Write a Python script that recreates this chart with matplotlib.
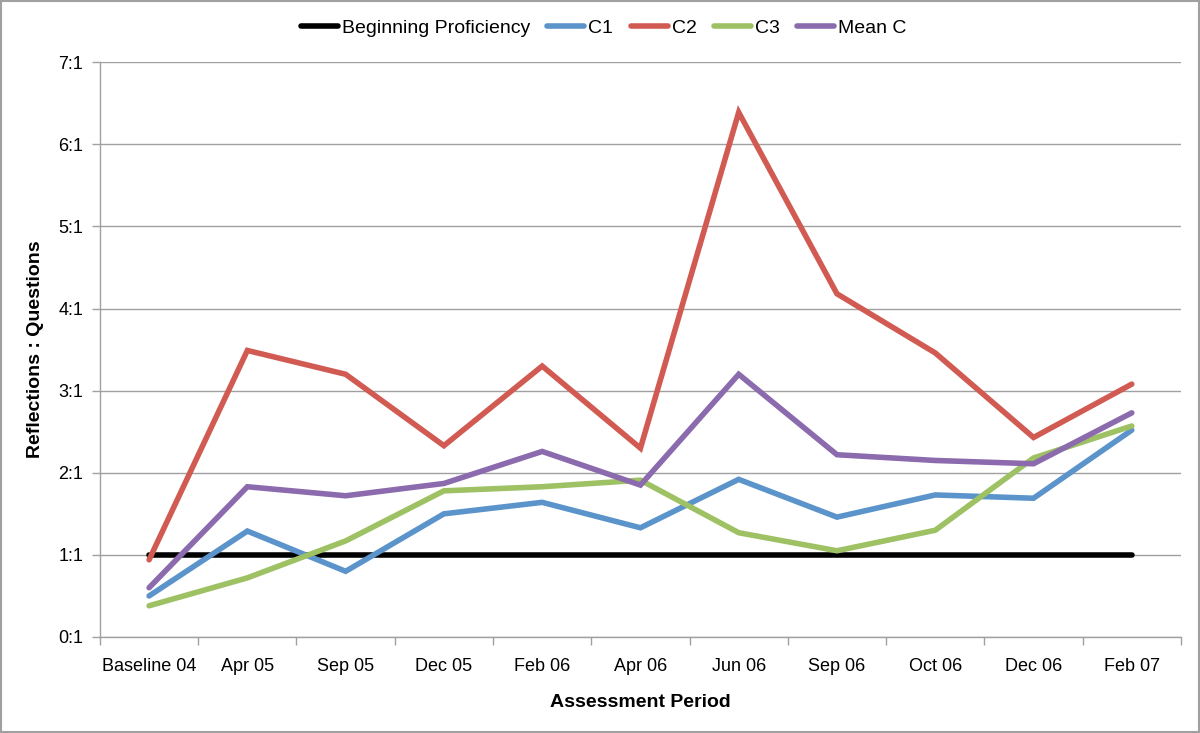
import matplotlib
matplotlib.use("Agg")
import matplotlib.pyplot as plt
from matplotlib.lines import Line2D
import matplotlib.patches as mpatches

plt.rcParams['font.family'] = ['Liberation Sans', 'DejaVu Sans']

periods = ["Baseline 04", "Apr 05", "Sep 05", "Dec 05", "Feb 06", "Apr 06",
           "Jun 06", "Sep 06", "Oct 06", "Dec 06", "Feb 07"]
beginning = [1, 1, 1, 1, 1, 1, 1, 1, 1, 1, 1]
c1 = [0.50, 1.29, 0.80, 1.50, 1.64, 1.33, 1.92, 1.46, 1.73, 1.69, 2.52]
c2 = [0.94, 3.49, 3.20, 2.33, 3.30, 2.30, 6.39, 4.18, 3.46, 2.43, 3.08]
c3 = [0.38, 0.72, 1.17, 1.78, 1.83, 1.91, 1.27, 1.05, 1.30, 2.18, 2.57]
mean_c = [0.60, 1.83, 1.72, 1.87, 2.26, 1.85, 3.20, 2.22, 2.15, 2.11, 2.73]
y_ticks = [0, 1, 2, 3, 4, 5, 6, 7]
y_labels = ["0:1", "1:1", "2:1", "3:1", "4:1", "5:1", "6:1", "7:1"]

series = [
    ("Beginning Proficiency", beginning, "#000000"),
    ("C1", c1, "#5B93CB"),
    ("C2", c2, "#D15B52"),
    ("C3", c3, "#9DC163"),
    ("Mean C", mean_c, "#8B6BAE"),
]

fig = plt.figure(figsize=(12, 7.33), dpi=100)
ax = fig.add_axes([0.0833, 0.131, 0.9008, 0.784])

x = list(range(len(periods)))
for name, vals, col in series:
    ax.plot(x, vals, color=col, lw=4.0, solid_capstyle='round',
            solid_joinstyle='miter', label=name, zorder=3)

ax.set_xlim(-0.5, len(periods) - 0.5)
ax.set_ylim(0, 7)
ax.set_yticks(y_ticks)
ax.set_yticklabels(y_labels, fontsize=13)
ax.yaxis.grid(True, color="#A0A0A0", lw=1.0, zorder=0)
ax.set_axisbelow(True)

ax.set_xticks(x)
ax.set_xticklabels(periods, fontsize=13)
ax.tick_params(axis='x', which='major', length=0, pad=15)
ax.set_xticks([i - 0.5 for i in range(len(periods) + 1)], minor=True)
ax.tick_params(axis='x', which='minor', length=6, color="#A0A0A0", width=1)
ax.tick_params(axis='y', length=6, color="#A0A0A0", width=1, pad=6)

for s in ['top', 'right']:
    ax.spines[s].set_visible(False)
for s in ['left', 'bottom']:
    ax.spines[s].set_color("#A0A0A0")
    ax.spines[s].set_linewidth(1)

ax.set_xlabel("Assessment Period", fontsize=14, fontweight='bold', labelpad=14)
ax.set_ylabel("Reflections : Questions", fontsize=14, fontweight='bold', labelpad=10)

handles = [Line2D([0], [0], color=c, lw=4, solid_capstyle='round') for _, _, c in series]
fig.legend(handles, [n for n, _, _ in series], loc='center', bbox_to_anchor=(0.503, 0.962),
           ncol=5, frameon=False, fontsize=14, handlelength=1.9, handletextpad=0.2,
           columnspacing=0.9)

border = mpatches.Rectangle((0.001, 0.001), 0.998, 0.998, transform=fig.transFigure,
                            fill=False, edgecolor="#A0A0A0", lw=1.5)
fig.patches.append(border)

fig.savefig("out.png", dpi=100)
